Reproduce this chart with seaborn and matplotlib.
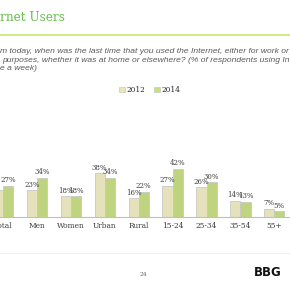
import matplotlib
matplotlib.use("Agg")
import matplotlib.pyplot as plt
from matplotlib.patches import Patch
import seaborn as sns
import pandas as pd

# ---- data ----
categories = ["Total", "Men", "Women", "Urban", "Rural", "15-24", "25-34", "35-54", "55+"]
values_2012 = [23, 23, 18, 38, 16, 27, 26, 14, 7]
values_2014 = [27, 34, 18, 34, 22, 42, 30, 13, 5]
years = ["2012", "2014"]
colors = {"2012": "#ece6b4", "2014": "#c6e36f"}

title_prefix = "Inte"
title_visible = "rnet Users"
question_lines = [
    ("Thinking about the period fro", "m today, when was the last time that you used the Internet, either for work or"),
    ("for personal ", "purposes, whether it was at home or elsewhere? (% of respondents using Internet at least"),
    ("onc", "e a week)"),
]
page_number = "24"
logo_text = "BBG"

df = pd.DataFrame({
    "group": categories * 2,
    "value": values_2012 + values_2014,
    "year": [years[0]] * len(categories) + [years[1]] * len(categories),
})

sns.set_style("white")
W = H = 290
fig = plt.figure(figsize=(2.9, 2.9), dpi=100)
fig.patch.set_facecolor("white")

def fx(px):
    return px / W

def fy(py):
    return 1 - py / H

# axes: baseline at y=216.7px, scale 1.145 px per %
base_px = 216.7
top_px = 100.0
ax = fig.add_axes([0, fy(base_px), 1, (base_px - top_px) / H])
spacing = 33.9
c0 = 3.1

sns.barplot(data=df, x="group", y="value", hue="year", order=categories,
            hue_order=years, palette=colors, width=0.6, gap=0,
            edgecolor="#c8c8c8", linewidth=0.6, legend=False, ax=ax)
ax.set_xlim(-c0 / spacing, (W - c0) / spacing)
ax.set_ylim(0, (base_px - top_px) / 1.145)

for cont in ax.containers:
    ax.bar_label(cont, labels=[f"{int(round(b.get_height()))}%" for b in cont],
                 padding=1, fontsize=5, family="DejaVu Serif", color="#404040")

ax.set_xlabel("")
ax.set_ylabel("")
ax.set_yticks([])
for s in ["left", "right", "top"]:
    ax.spines[s].set_visible(False)
ax.spines["bottom"].set_color("#bfbfbf")
ax.spines["bottom"].set_linewidth(0.8)
ax.tick_params(axis="x", length=0, pad=4, labelsize=5.3, labelcolor="#3a3a3a")
for lab in ax.get_xticklabels():
    lab.set_family("DejaVu Serif")
ax.set_facecolor("none")

# legend
handles = [Patch(facecolor=colors[y], edgecolor="#c8c8c8", linewidth=0.5) for y in years]
fig.legend(handles, years, loc="center", bbox_to_anchor=(fx(150), fy(90)), ncol=2,
           frameon=False, handlelength=0.7, handleheight=0.7, handletextpad=0.3,
           columnspacing=1.2, prop={"family": "DejaVu Serif", "size": 5.3})

# title
fig.text(fx(0), fy(21), title_visible, ha="left", va="baseline", fontsize=8.7,
         family="DejaVu Serif", color="#66bf4c")
fig.text(fx(0), fy(21), title_prefix, ha="right", va="baseline", fontsize=8.7,
         family="DejaVu Serif", color="#66bf4c")
fig.add_artist(plt.Line2D([0, 1], [fy(35), fy(35)], color="#c6e86b", lw=1.2))

# question text
for (pre, vis), ypx, xpx in zip(question_lines, [51.5, 60, 68.5], [0, 2, 0]):
    fig.text(fx(xpx), fy(ypx), vis, ha="left", va="center", fontsize=6.1,
             family="Liberation Sans", style="italic", color="#5a5a5a")
    fig.text(fx(xpx), fy(ypx), pre, ha="right", va="center", fontsize=6.1,
             family="Liberation Sans", style="italic", color="#5a5a5a")

# footer
fig.add_artist(plt.Line2D([0, 1], [fy(253), fy(253)], color="#f0f0f0", lw=0.8))
fig.text(fx(143), fy(275), page_number, ha="center", va="center", fontsize=4.3,
         family="DejaVu Serif", color="#666666")
fig.text(fx(268), fy(273), logo_text, ha="center", va="center", fontsize=8.5,
         family="DejaVu Sans", weight="bold", color="#111111")

fig.savefig("out.png", dpi=100, facecolor="white")
